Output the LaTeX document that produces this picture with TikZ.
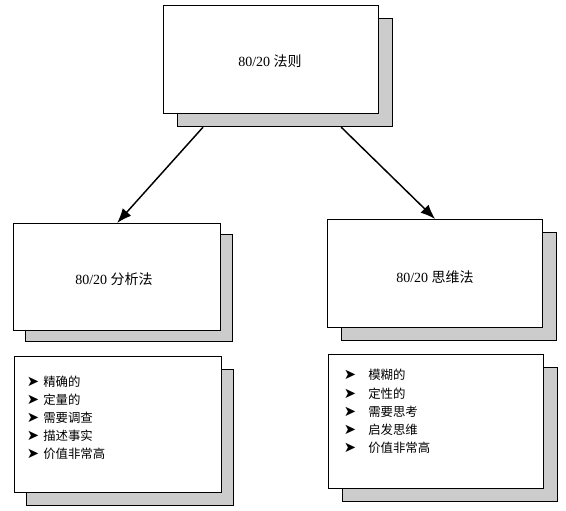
\documentclass[tikz,border=0pt]{standalone}
\usepackage{fontspec}
\setmainfont{Liberation Serif}
\newfontfamily\cjk{Noto Sans CJK SC}
\newfontfamily\dingfont{DejaVu Sans}
\usetikzlibrary{arrows.meta}

\tikzset{
  card/.style={draw, line width=0.9pt, fill=white, anchor=north west, inner sep=0pt},
  cardshadow/.style={draw, line width=0.9pt, fill=black!20, anchor=north west, inner sep=0pt},
  title/.style={font=\fontsize{10.5}{12}\selectfont, inner sep=0.75pt},
  bul/.style={font=\dingfont\fontsize{11}{12}\selectfont, inner sep=0pt},
  item/.style={font=\cjk\fontsize{9.3}{11}\selectfont, anchor=west, inner sep=0pt},
  link/.style={line width=1.1pt, -{Latex[length=11pt,width=8.5pt]}}
}

\begin{document}
\begin{tikzpicture}[x=0.75pt,y=0.75pt,yscale=-1,xscale=1]
\useasboundingbox (0,0) rectangle (566,510);

% shadows
\node[cardshadow, minimum width=161.25pt, minimum height=81pt] (topsh) at (177,18) {};
\node[cardshadow, minimum width=155.25pt, minimum height=80.25pt] (anash) at (25,234) {};
\node[cardshadow, minimum width=161.25pt, minimum height=81pt] (thinksh) at (341,232) {};
\node[cardshadow, minimum width=155.25pt, minimum height=102pt] (analistsh) at (26,369) {};
\node[cardshadow, minimum width=161.25pt, minimum height=100.5pt] (thinklistsh) at (342,367) {};

% cards
\node[card, minimum width=161.25pt, minimum height=81pt] (top) at (163,5) {};
\node[card, minimum width=155.25pt, minimum height=80.25pt] (ana) at (13,223) {};
\node[card, minimum width=161.25pt, minimum height=81pt] (think) at (327,219) {};
\node[card, minimum width=155.25pt, minimum height=102pt] (analist) at (14,356) {};
\node[card, minimum width=161.25pt, minimum height=100.5pt] (thinklist) at (328,354) {};

% Text Node
\node[title] (toptext) at (270,61) {80/20 {\cjk 法则}};
\node[title] (anatext) at (114,279) {80/20 {\cjk 分析法}};
\node[title] (thinktext) at (435,277) {80/20 {\cjk 思维法}};

% bullet lists
\foreach \t [count=\i] in {精确的,定量的,需要调查,描述事实,价值非常高}{
  \node[bul] (ab\i) at (33,364+18*\i) {➤};
  \node[item] (ai\i) at (43,364+18*\i) {\t};
}
\foreach \t [count=\i] in {模糊的,定性的,需要思考,启发思维,价值非常高}{
  \node[bul] (tb\i) at (350,357+18.25*\i) {➤};
  \node[item] (ti\i) at (368,357+18.25*\i) {\t};
}

% links
\draw[link] ([xshift=19.5pt]topsh.south west) -- (ana.north);
\draw[link] ([xshift=-39pt]topsh.south east) -- (think.north);

\end{tikzpicture}
\end{document}
